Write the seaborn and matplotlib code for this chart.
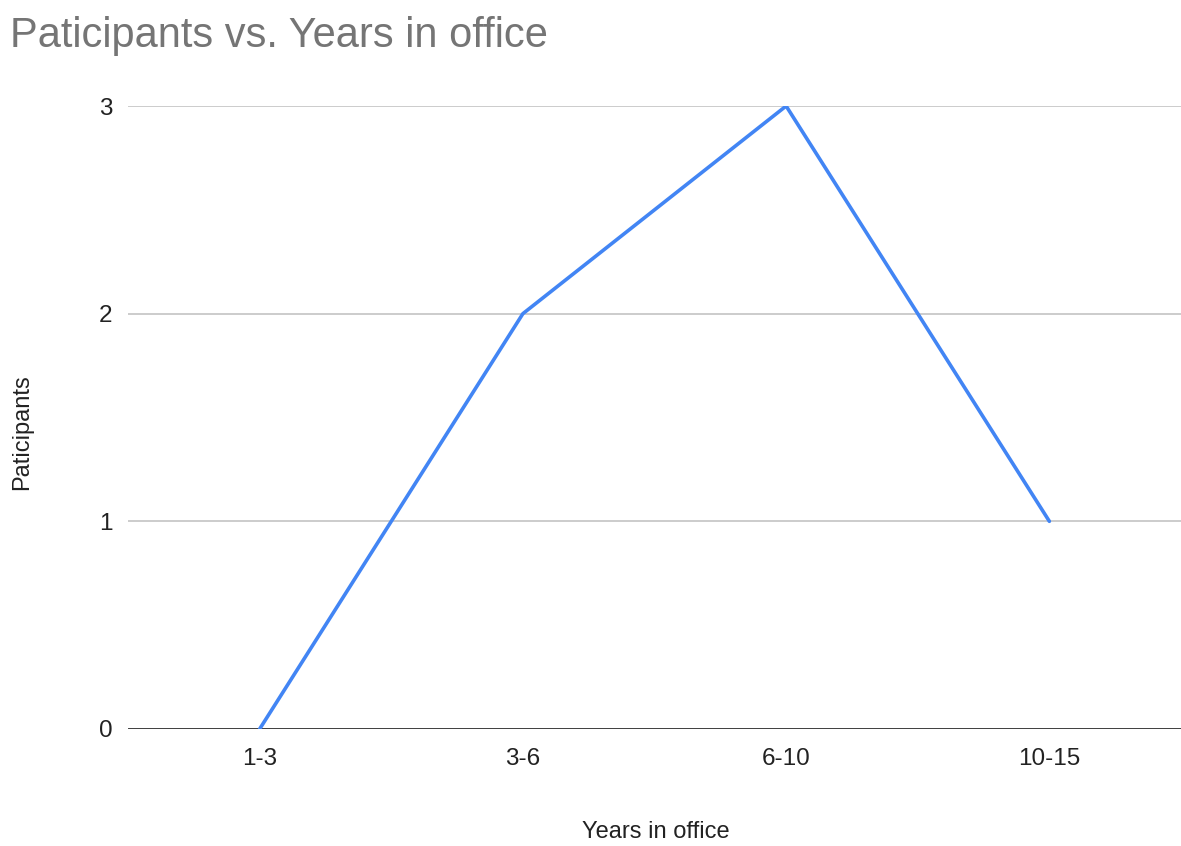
import matplotlib
matplotlib.use("Agg")
import matplotlib.pyplot as plt
import seaborn as sns
import pandas as pd

# data
years = ["1-3", "3-6", "6-10", "10-15"]
participants = [0, 2, 3, 1]

sns.set_style("white")
plt.rcParams["font.family"] = ["Liberation Sans", "DejaVu Sans"]

df = pd.DataFrame({"Years in office": years, "Paticipants": participants})

fig = plt.figure(figsize=(11.81, 8.46), dpi=100)
ax = fig.add_axes([0.1084, 0.1383, 0.8916, 0.7364])

sns.lineplot(data=df, x="Years in office", y="Paticipants", ax=ax,
             color="#4285F4", linewidth=2.6, sort=False)

ax.set_xlim(-0.5, len(years) - 0.5)
ax.set_ylim(0, 3)
ax.set_yticks([0, 1, 2, 3])
ax.grid(axis="y", color="#cccccc", linewidth=1.4)
ax.set_axisbelow(True)
ax.axhline(0, color="#333333", linewidth=2.0, zorder=1)
for s in ax.spines.values():
    s.set_visible(False)
ax.tick_params(axis="both", length=0, labelsize=17.5, labelcolor="#222222")
ax.tick_params(axis="x", pad=14)
ax.tick_params(axis="y", pad=11)
ax.set_xlabel("")
ax.set_ylabel("")

fig.text(0.555, 1 - 832 / 846, "Years in office", ha="center", va="center",
         fontsize=17, color="#222222")
fig.text(22 / 1181, 1 - 432 / 846, "Paticipants", ha="center", va="center",
         rotation=90, fontsize=17, color="#222222")
fig.text(10 / 1181, 1 - 36 / 846, "Paticipants vs. Years in office",
         ha="left", va="center", fontsize=30, color="#757575")

fig.savefig("out.png", dpi=100)
